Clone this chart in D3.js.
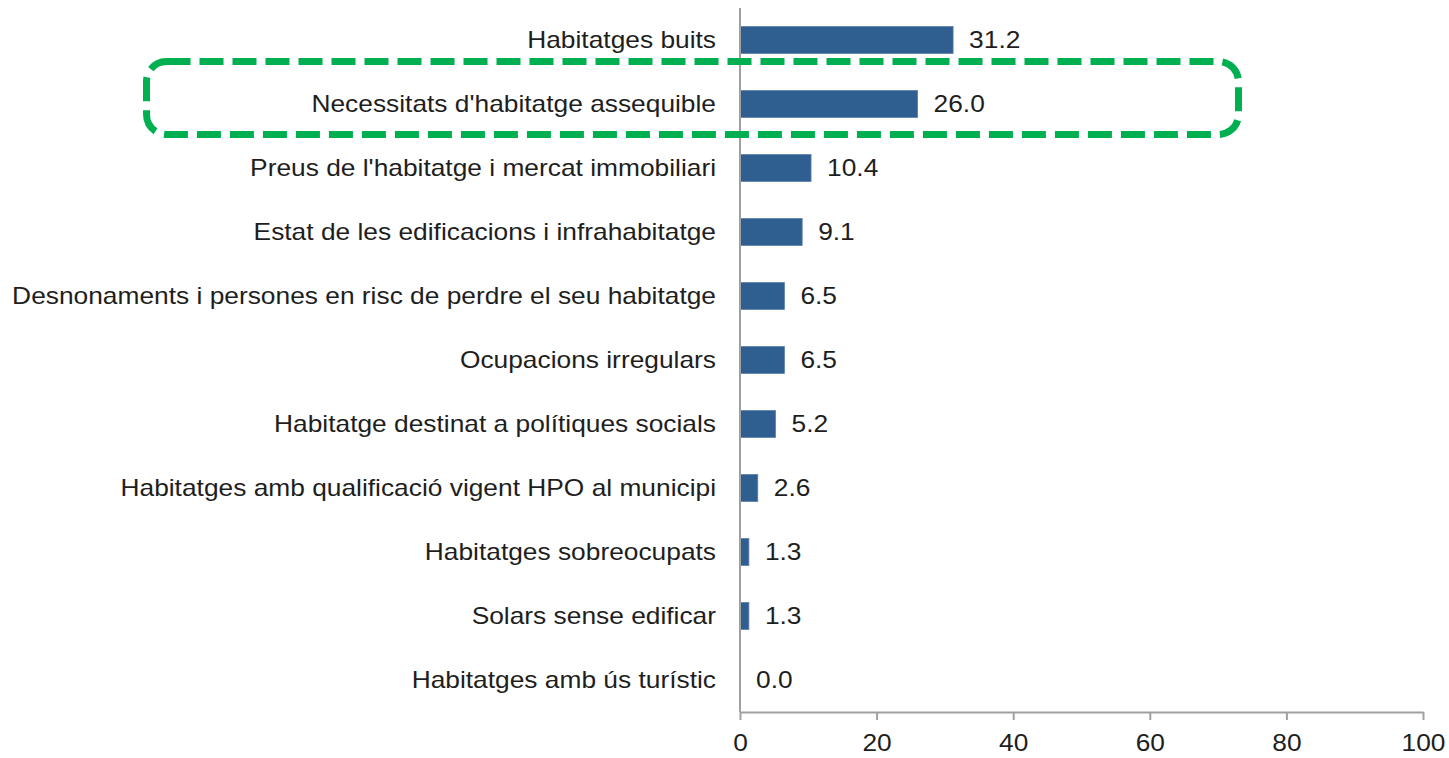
<!DOCTYPE html>
<html>
<head>
<meta charset="utf-8">
<script src="https://cdn.jsdelivr.net/npm/d3@7"></script>
<style>
    body { margin: 0; background: #fff; }
    svg text { font-family: "Liberation Sans", Arial, sans-serif; }
</style>
</head>
<body>
<div class="graph"></div>
<script>
var categories = [
    'Habitatges buits',
    "Necessitats d'habitatge assequible",
    "Preus de l'habitatge i mercat immobiliari",
    'Estat de les edificacions i infrahabitatge',
    'Desnonaments i persones en risc de perdre el seu habitatge',
    'Ocupacions irregulars',
    'Habitatge destinat a polítiques socials',
    'Habitatges amb qualificació vigent HPO al municipi',
    'Habitatges sobreocupats',
    'Solars sense edificar',
    'Habitatges amb ús turístic'
];
var values = [31.2, 26.0, 10.4, 9.1, 6.5, 6.5, 5.2, 2.6, 1.3, 1.3, 0.0];
var xTicks = [0, 20, 40, 60, 80, 100];
var highlighted = "Necessitats d'habitatge assequible";

var width = 1449, height = 758;
var fontSize = 24, stretch = 1.097;

var svg = d3.select('.graph')
    .append('svg')
    .attr('width', width)
    .attr('height', height);

var xScale = d3.scaleLinear()
    .domain([0, 100])
    .range([740, 1423]);

var yScale = d3.scaleBand()
    .domain(categories)
    .range([8, 712])
    .paddingInner(0.58)
    .paddingOuter(0.29);

// bars
svg.selectAll('rect.bar')
    .data(values)
    .enter()
    .append('rect')
    .attr('class', 'bar')
    .attr('x', xScale(0))
    .attr('y', function (d, i) { return yScale(categories[i]); })
    .attr('width', function (d) { return xScale(d) - xScale(0); })
    .attr('height', yScale.bandwidth())
    .attr('fill', '#2f5e91')
    .attr('stroke', '#5a7fa8')
    .attr('stroke-width', 0.8);

// category labels
svg.selectAll('text.cat')
    .data(categories)
    .enter()
    .append('text')
    .attr('class', 'cat')
    .attr('transform', function (d) {
        return 'translate(716,' + (yScale(d) + yScale.bandwidth() / 2) + ') scale(' + stretch + ',1)';
    })
    .attr('dy', '0.35em')
    .attr('text-anchor', 'end')
    .style('font-size', fontSize + 'px')
    .attr('fill', '#1e1e1e')
    .text(function (d) { return d; });

// value labels
svg.selectAll('text.val')
    .data(values)
    .enter()
    .append('text')
    .attr('class', 'val')
    .attr('transform', function (d, i) {
        return 'translate(' + (xScale(d) + 16) + ',' + (yScale(categories[i]) + yScale.bandwidth() / 2) + ') scale(' + stretch + ',1)';
    })
    .attr('dy', '0.35em')
    .style('font-size', fontSize + 'px')
    .attr('fill', '#1e1e1e')
    .text(function (d) { return d.toFixed(1); });

// axes
var xAxis = d3.axisBottom(xScale)
    .tickValues(xTicks)
    .tickSize(8)
    .tickSizeOuter(0)
    .tickPadding(14);

var gx = svg.append('g')
    .attr('transform', 'translate(0,712)')
    .call(xAxis);
gx.select('.domain').attr('stroke', '#a0a0a0').attr('stroke-width', 2);
gx.selectAll('.tick line').attr('stroke', '#a0a0a0').attr('stroke-width', 2);
gx.selectAll('.tick text')
    .style('font-size', fontSize + 'px')
    .style('font-family', '"Liberation Sans", Arial, sans-serif')
    .attr('fill', '#1e1e1e')
    .attr('transform', 'scale(' + stretch + ',1)')
    .attr('x', 0);

svg.append('line')
    .attr('x1', xScale(0)).attr('x2', xScale(0))
    .attr('y1', 8).attr('y2', 712)
    .attr('stroke', '#a0a0a0')
    .attr('stroke-width', 2);

// highlight box around the second row
var hy = yScale(highlighted) + yScale.bandwidth() / 2;
svg.append('rect')
    .attr('x', 146.5)
    .attr('y', hy - 42.5)
    .attr('width', 1238.5 - 146.5)
    .attr('height', 73)
    .attr('rx', 20)
    .attr('fill', 'none')
    .attr('stroke', '#00b050')
    .attr('stroke-width', 7)
    .attr('stroke-dasharray', '24 9');
</script>
</body>
</html>
